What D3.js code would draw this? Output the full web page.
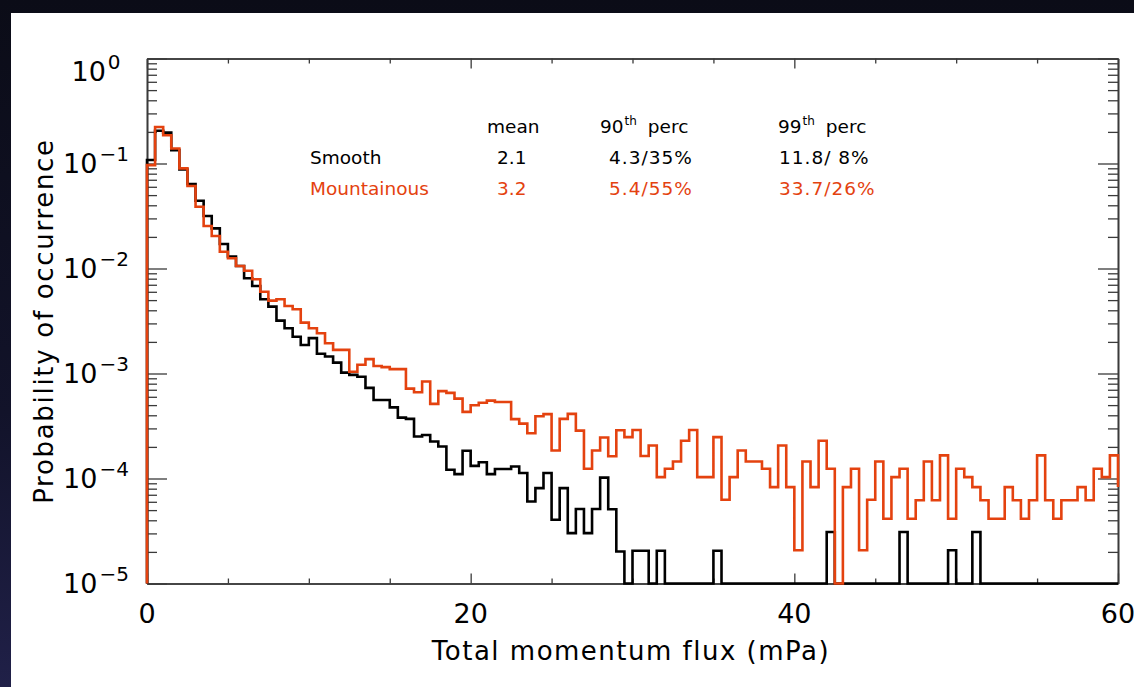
<!DOCTYPE html>
<html>
<head>
<meta charset="utf-8">
<script src="https://cdn.jsdelivr.net/npm/d3@7"></script>
<style>
  html, body { margin: 0; padding: 0; background: #0b0c17; }
  svg { display: block; }
  text { font-family: "DejaVu Sans", sans-serif; }
</style>
</head>
<body>
<svg id="chart" width="1134" height="687"></svg>
<script>
// ---------------- DATA ----------------
const binWidth = 0.5;          // mPa
const xDomain = [0, 60];
const yDomain = [1e-5, 1];
const xMajorTicks = [0, 20, 40, 60];
const xMinorTicks = [5, 10, 15, 25, 30, 35, 45, 50, 55];
const yDecades = [1e-5, 1e-4, 1e-3, 1e-2, 1e-1, 1e0];
const yExponents = ["\u22125", "\u22124", "\u22123", "\u22122", "\u22121", "0"];

// probability per 0.5 mPa bin (last entry = next bin beyond 60, clipped at the edge)
const smooth = [
  0.108, 0.205, 0.197, 0.134, 0.0877, 0.0637, 0.0442, 0.0316, 0.0241, 0.0171,
  0.0130, 0.01056, 0.00807, 0.00681, 0.00509, 0.00433, 0.00319, 0.00270, 0.00224, 0.00187,
  0.00217, 0.00154, 0.00145, 0.00127, 0.00102, 0.00097, 0.00093, 0.00073, 0.00056, 0.00056,
  0.000476, 0.00038, 0.00037, 0.000251, 0.00026, 0.000225, 0.000202, 0.000121, 0.00011, 0.000184,
  0.000132, 0.000143, 0.00011, 0.000123, 0.000123, 0.00013, 0.000113, 0.0000604, 0.000081, 0.000113,
  0.0000405, 0.000081, 0.0000302, 0.0000512, 0.0000302, 0.0000512, 0.000102, 0.000051, 0.0000202, 0,
  0.0000205, 0.0000205, 0, 0.0000205, 0, 0, 0, 0, 0, 0,
  0.0000205, 0, 0, 0, 0, 0, 0, 0, 0, 0,
  0, 0, 0, 0, 0.0000309, 0, 0, 0, 0, 0,
  0, 0, 0, 0.0000309, 0, 0, 0, 0, 0, 0.0000207,
  0, 0, 0.0000309, 0, 0, 0, 0, 0, 0, 0,
  0, 0, 0, 0, 0, 0, 0, 0, 0, 0,
  0
];
const mountainous = [
  0.0966, 0.223, 0.186, 0.139, 0.0898, 0.0610, 0.0387, 0.0254, 0.0204, 0.01445,
  0.0125, 0.01056, 0.00953, 0.00789, 0.00601, 0.00494, 0.00509, 0.00440, 0.00409, 0.00305,
  0.00270, 0.00242, 0.00194, 0.00168, 0.00168, 0.00104, 0.00121, 0.00137, 0.00118, 0.00115,
  0.00110, 0.00110, 0.000718, 0.000662, 0.000838, 0.000514, 0.00068, 0.000654, 0.000577, 0.000431,
  0.000499, 0.000526, 0.000552, 0.000535, 0.000535, 0.000368, 0.000333, 0.00027, 0.000392, 0.00041,
  0.000185, 0.00037, 0.000413, 0.000286, 0.000124, 0.000185, 0.000246, 0.000163, 0.000288, 0.000248,
  0.00029, 0.000164, 0.000206, 0.000103, 0.000124, 0.000145, 0.000229, 0.00029, 0.000103, 0.000103,
  0.000248, 0.0000627, 0.000103, 0.000185, 0.000145, 0.000145, 0.000124, 0.0000828, 0.000206, 0.0000828,
  0.0000207, 0.000145, 0.0000828, 0.000229, 0.000124, 0, 0.0000828, 0.000124, 0.0000207, 0.0000627,
  0.000145, 0.0000414, 0.000103, 0.000124, 0.0000414, 0.0000621, 0.000145, 0.0000621, 0.000166, 0.0000414,
  0.000124, 0.000103, 0.0000828, 0.0000621, 0.0000414, 0.0000414, 0.0000828, 0.0000621, 0.0000414, 0.0000621,
  0.000166, 0.0000621, 0.0000414, 0.0000621, 0.0000621, 0.0000828, 0.0000621, 0.000124, 0.000103, 0.000166,
  0.0000828
];

const statHeaders = ["mean", "90", "99"];
const seriesNames = ["Smooth", "Mountainous"];
const statMeans = ["2.1", "3.2"];
const stat90 = ["4.3/35%", "5.4/55%"];
const stat99 = ["11.8/ 8%", "33.7/26%"];

// ---------------- LAYOUT ----------------
const W = 1134, H = 687;
const m = { left: 147, right: 1118, top: 58.5, bottom: 583.5 };
const RED = "#e4420f";
const AXIS = "#3a3a3a";

const svg = d3.select("#chart");

// slide background
const defs = svg.append("defs");
const grad = defs.append("linearGradient").attr("id", "edge").attr("x1", 0).attr("y1", 0).attr("x2", 0).attr("y2", 1);
grad.append("stop").attr("offset", "0%").attr("stop-color", "#0b0c17");
grad.append("stop").attr("offset", "60%").attr("stop-color", "#12132a");
grad.append("stop").attr("offset", "100%").attr("stop-color", "#202048");
svg.append("rect").attr("width", W).attr("height", H).attr("fill", "url(#edge)");
svg.append("rect").attr("x", 11).attr("y", 13).attr("width", W - 11).attr("height", H - 13).attr("fill", "#ffffff");

const x = d3.scaleLinear().domain(xDomain).range([m.left, m.right]);
const y = d3.scaleLog().domain(yDomain).range([m.bottom, m.top]).clamp(true);

// ---------------- AXES ----------------
const yMinor = [];
yDecades.slice(0, -1).forEach(d => { for (let k = 2; k <= 9; k++) yMinor.push(d * k); });

function styleAxis(g) {
  g.selectAll("path.domain").attr("stroke", AXIS).attr("stroke-width", 1.6);
  g.selectAll(".tick line").attr("stroke", AXIS).attr("stroke-width", 1.3);
  g.selectAll(".tick text").remove();
}

// left
svg.append("g").attr("transform", `translate(${m.left},0)`)
  .call(d3.axisLeft(y).tickValues(yDecades).tickSize(-20).tickSizeOuter(0).tickFormat(""))
  .call(styleAxis);
svg.append("g").attr("transform", `translate(${m.left},0)`)
  .call(d3.axisLeft(y).tickValues(yMinor).tickSize(-10).tickSizeOuter(0).tickFormat(""))
  .call(styleAxis);
// right
svg.append("g").attr("transform", `translate(${m.right},0)`)
  .call(d3.axisRight(y).tickValues(yDecades).tickSize(-20).tickSizeOuter(0).tickFormat(""))
  .call(styleAxis);
svg.append("g").attr("transform", `translate(${m.right},0)`)
  .call(d3.axisRight(y).tickValues(yMinor).tickSize(-10).tickSizeOuter(0).tickFormat(""))
  .call(styleAxis);
// bottom
svg.append("g").attr("transform", `translate(0,${m.bottom})`)
  .call(d3.axisBottom(x).tickValues(xMajorTicks).tickSize(-10).tickSizeOuter(0).tickFormat(""))
  .call(styleAxis);
svg.append("g").attr("transform", `translate(0,${m.bottom})`)
  .call(d3.axisBottom(x).tickValues(xMinorTicks).tickSize(-5).tickSizeOuter(0).tickFormat(""))
  .call(styleAxis);
// top
svg.append("g").attr("transform", `translate(0,${m.top})`)
  .call(d3.axisTop(x).tickValues(xMajorTicks).tickSize(-10).tickSizeOuter(0).tickFormat(""))
  .call(styleAxis);
svg.append("g").attr("transform", `translate(0,${m.top})`)
  .call(d3.axisTop(x).tickValues(xMinorTicks).tickSize(-5).tickSizeOuter(0).tickFormat(""))
  .call(styleAxis);

// x tick labels
svg.append("g").selectAll("text").data(xMajorTicks).join("text")
  .attr("x", d => x(d)).attr("y", 623)
  .attr("text-anchor", "middle").attr("font-size", 27).attr("fill", "#000")
  .text(d => d);

// y tick labels  10^n
const yl = svg.append("g").selectAll("text").data(yDecades).join("text")
  .attr("x", 96).attr("y", d => Math.max(y(d), 72) + 9)
  .attr("text-anchor", "middle").attr("font-size", 27).attr("fill", "#000");
yl.append("tspan").text("10");
yl.append("tspan").attr("font-size", 20).attr("dy", -12).attr("dx", 2).text((d, i) => yExponents[i]);

// axis titles
svg.append("text").attr("x", 631).attr("y", 660).attr("text-anchor", "middle")
  .attr("font-size", 26).attr("letter-spacing", 1.5).attr("fill", "#000").text("Total momentum flux (mPa)");
svg.append("text").attr("transform", `translate(53,${(m.top + m.bottom) / 2}) rotate(-90)`)
  .attr("text-anchor", "middle").attr("font-size", 26).attr("letter-spacing", 1.7).attr("fill", "#000")
  .text("Probability of occurrence");

// ---------------- HISTOGRAMS ----------------
function stepPath(vals) {
  const nb = Math.round((xDomain[1] - xDomain[0]) / binWidth);
  const pts = [[x(xDomain[0]), y(yDomain[0])]];
  for (let k = 0; k < nb; k++) {
    const x0 = x(xDomain[0] + k * binWidth), x1 = x(xDomain[0] + (k + 1) * binWidth);
    const yy = y(Math.max(vals[k], yDomain[0]));
    pts.push([x0, yy], [x1, yy]);
  }
  pts.push([x(xDomain[1]), y(Math.max(vals[nb], yDomain[0]))]);
  return d3.line()(pts);
}

svg.append("path").attr("d", stepPath(smooth)).attr("fill", "none")
  .attr("stroke", "#000").attr("stroke-width", 2.6).attr("stroke-linejoin", "miter");
svg.append("path").attr("d", stepPath(mountainous)).attr("fill", "none")
  .attr("stroke", RED).attr("stroke-width", 2.6).attr("stroke-linejoin", "miter");

// ---------------- STATISTICS TABLE ----------------
const fs = 18.5;
const tg = svg.append("g").attr("font-size", fs);
tg.append("text").attr("x", 487).attr("y", 133).attr("fill", "#000").text(statHeaders[0]);
[[600, statHeaders[1]], [778, statHeaders[2]]].forEach(([px, lab]) => {
  const t = tg.append("text").attr("x", px).attr("y", 133).attr("fill", "#000");
  t.append("tspan").text(lab);
  t.append("tspan").attr("font-size", 12).attr("dy", -8).attr("dx", 1).text("th");
  t.append("tspan").attr("dy", 8).attr("dx", 11).text("perc");
});
const rowY = [164, 195];
const rowColor = ["#000", RED];
seriesNames.forEach((name, i) => {
  tg.append("text").attr("x", 310).attr("y", rowY[i]).attr("fill", rowColor[i]).text(name);
  tg.append("text").attr("x", 497).attr("y", rowY[i]).attr("fill", rowColor[i]).text(statMeans[i]);
  tg.append("text").attr("x", 609).attr("y", rowY[i]).attr("letter-spacing", 1).attr("fill", rowColor[i]).text(stat90[i]);
  tg.append("text").attr("x", 779).attr("y", rowY[i]).attr("letter-spacing", 1).attr("fill", rowColor[i]).text(stat99[i]);
});
</script>
</body>
</html>
